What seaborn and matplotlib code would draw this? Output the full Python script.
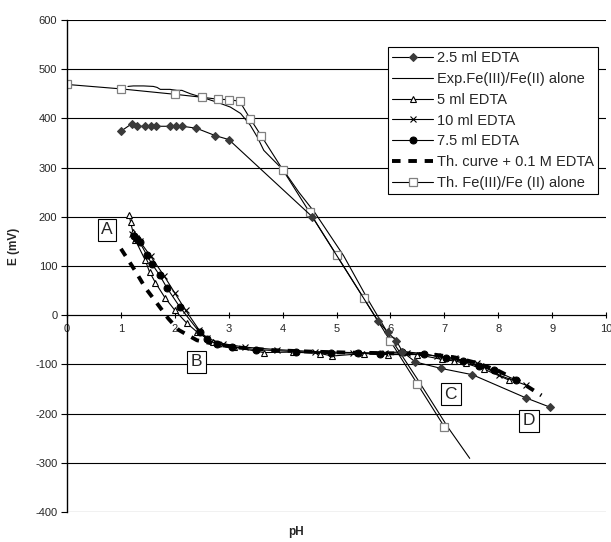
import matplotlib
matplotlib.use("Agg")
import matplotlib.pyplot as plt
import seaborn as sns
import pandas as pd

# ---------------- data ----------------
ph_25 = [1.0, 1.2, 1.3, 1.45, 1.56, 1.65, 1.91, 2.02, 2.14, 2.4, 2.75, 3.0, 4.55,
         5.77, 5.95, 6.11, 6.22, 6.46, 6.93, 7.52, 8.51, 8.96]
e_25 = [374, 389, 384, 384, 384, 384, 384, 384, 384, 380, 365, 357, 200,
        -12, -35, -52, -74, -95, -108, -121, -168, -187]

ph_exp = [1.13, 1.23, 1.42, 1.6, 1.67, 1.73, 1.91, 2.04, 2.13, 2.29, 2.5, 2.78, 3.03,
          3.22, 3.4, 3.53, 3.65, 3.83, 4.02, 4.3, 4.6, 5.13, 5.57, 6.05, 6.5, 7.06, 7.47]
e_exp = [465, 466, 466, 465, 463, 459, 459, 457, 457, 450, 443, 433, 423,
         410, 386, 362, 335, 315, 294, 250, 208, 121, 34, -55, -130, -227, -291]

ph_5 = [1.15, 1.18, 1.22, 1.27, 1.45, 1.53, 1.64, 1.82, 2.0, 2.22, 2.41, 2.7, 3.1,
        3.65, 4.2, 4.7, 4.92, 5.5, 5.95, 6.5, 6.96, 7.18, 7.4, 7.74, 8.2]
e_5 = [204, 189, 170, 152, 112, 88, 66, 35, 10, -16, -34, -55, -65,
       -76, -75, -78, -83, -78, -80, -80, -90, -93, -98, -110, -132]

ph_10 = [1.2, 1.28, 1.35, 1.55, 1.8, 2.0, 2.2, 2.45, 2.6, 2.9, 3.3, 3.9, 4.6, 5.3,
         5.9, 6.3, 6.87, 7.2, 7.61, 8.02, 8.51]
e_10 = [165, 156, 150, 120, 80, 45, 10, -30, -47, -58, -65, -70, -74, -76,
        -77, -77, -83, -88, -98, -122, -142]

ph_75 = [1.25, 1.3, 1.35, 1.48, 1.57, 1.72, 1.85, 2.09, 2.46, 2.6, 2.78, 3.06, 3.5,
         4.24, 4.9, 5.4, 5.8, 6.22, 6.62, 7.03, 7.34, 7.65, 7.92, 8.33]
e_75 = [160, 154, 148, 122, 105, 81, 56, 17, -35, -49, -59, -64, -70,
        -74, -77, -77, -78, -74, -78, -88, -93, -104, -112, -132]

ph_th = [1.0, 1.26, 1.45, 1.67, 1.88, 2.07, 2.41, 2.8, 3.2, 3.8, 4.5, 5.2, 5.8, 6.3,
         6.8, 7.2, 7.6, 8.0, 8.4, 8.8]
e_th = [135, 91, 56, 24, -7, -30, -51, -60, -66, -71, -74, -76, -77, -78,
        -80, -86, -97, -113, -135, -163]

ph_thalone = [0, 1, 2, 2.5, 2.8, 3, 3.2, 3.4, 3.6, 4, 4.5, 5, 5.5, 6, 6.5, 7]
e_thalone = [469, 460, 449, 443, 439, 438, 435, 399, 365, 296, 209, 122, 35, -53, -140, -227]

labels = ["2.5 ml EDTA", "Exp.Fe(III)/Fe(II) alone", "5 ml EDTA", "10 ml EDTA",
          "7.5 ml EDTA", "Th. curve + 0.1 M EDTA", "Th. Fe(III)/Fe (II) alone"]

annot_text = ["A", "B", "C", "D"]
annot_ph = [0.74, 2.4, 7.12, 8.57]
annot_e = [174, -95, -161, -215]

y_ticks = list(range(-400, 601, 100))
x_ticks = list(range(0, 11))

# ---------------- plot ----------------
sns.set_theme(style="white")
plt.rcParams["font.family"] = ["Liberation Sans", "DejaVu Sans"]
plt.rcParams["axes.unicode_minus"] = False

fig = plt.figure(figsize=(6.11, 5.42), dpi=100)
ax = fig.add_axes([0.1097, 0.0554, 0.8823, 0.9077])

for yv in y_ticks:
    ax.axhline(yv, color="black", lw=0.8, zorder=0.5)

def draw(x, y, label, **kw):
    df = pd.DataFrame({"pH": x, "E": y})
    sns.lineplot(data=df, x="pH", y="E", sort=False, estimator=None, ax=ax,
                 label=label, **kw)

draw(ph_exp, e_exp, labels[1], color="black", lw=0.8)
draw(ph_thalone, e_thalone, labels[6], color="black", lw=0.8, marker="s",
     markersize=5.5, markerfacecolor="white", markeredgecolor="#808080",
     markeredgewidth=0.9)
draw(ph_th, e_th, labels[5], color="black", lw=2.8, dashes=(2.2, 2.0))
draw(ph_5, e_5, labels[2], color="black", lw=0.8, marker="^", markersize=5,
     markerfacecolor="white", markeredgecolor="black", markeredgewidth=0.8)
draw(ph_10, e_10, labels[3], color="black", lw=0.8, marker="x", markersize=5,
     markeredgecolor="black", markeredgewidth=0.8)
draw(ph_75, e_75, labels[4], color="black", lw=0.8, marker="o", markersize=5,
     markerfacecolor="black", markeredgecolor="black")
draw(ph_25, e_25, labels[0], color="black", lw=0.8, marker="D", markersize=4.5,
     markerfacecolor="#3a3a3a", markeredgecolor="#3a3a3a")

handles, lbls = ax.get_legend_handles_labels()
hmap = dict(zip(lbls, handles))
leg = ax.legend([hmap[l] for l in labels], labels, loc="upper right",
                bbox_to_anchor=(0.985, 0.945), borderaxespad=0, fontsize=10.5,
                frameon=True, fancybox=False, edgecolor="black", framealpha=1,
                handlelength=2.8, handletextpad=0.25, labelspacing=0.46,
                borderpad=0.3)
leg.get_frame().set_linewidth(0.8)
leg.set_zorder(10)

for t, xv, yv in zip(annot_text, annot_ph, annot_e):
    ax.text(xv, yv, t, fontsize=12.5, ha="center", va="center", zorder=11,
            bbox=dict(boxstyle="square,pad=0.2", fc="white", ec="black", lw=0.8))

ax.set_xlim(0, 10)
ax.set_ylim(-400, 600)
ax.set_xticks(x_ticks)
ax.set_yticks(y_ticks)
ax.tick_params(axis="x", direction="inout", length=5, width=0.8, labelsize=8,
               pad=4, color="black", bottom=True)
ax.tick_params(axis="y", direction="out", length=4, width=0.8, labelsize=8,
               pad=3, color="black", left=True)

for s in ["top", "right"]:
    ax.spines[s].set_visible(False)
ax.spines["bottom"].set_position(("data", 0))
ax.spines["bottom"].set_color("black")
ax.spines["bottom"].set_linewidth(0.8)
ax.spines["left"].set_color("black")
ax.spines["left"].set_linewidth(1.0)

ax.set_xlabel("pH", fontsize=8.5, fontweight="bold")
ax.set_ylabel("E (mV)", fontsize=8.5, fontweight="bold")
ax.xaxis.set_label_coords(0.425, -0.028)
ax.yaxis.set_label_coords(-0.087, 0.54)

fig.savefig("out.png", dpi=100)
